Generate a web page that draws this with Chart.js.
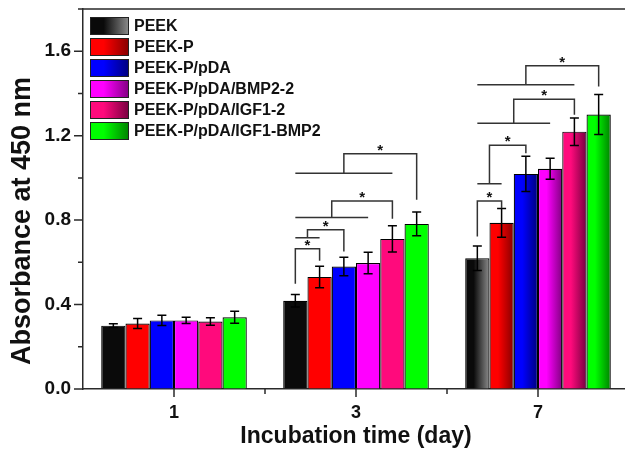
<!DOCTYPE html>
<html>
<head>
<meta charset="utf-8">
<script src="https://cdn.jsdelivr.net/npm/chart.js@4.4.0/dist/chart.umd.min.js"></script>
<style>
  html, body { margin: 0; padding: 0; background: #fff; overflow: hidden; }
  canvas { display: block; }
</style>
</head>
<body>
<canvas id="absChart" width="630" height="450"></canvas>
<script>
// data
const days = ['1', '3', '7'];
const groups = ['PEEK', 'PEEK-P', 'PEEK-P/pDA', 'PEEK-P/pDA/BMP2-2', 'PEEK-P/pDA/IGF1-2', 'PEEK-P/pDA/IGF1-BMP2'];
const peek       = [0.300, 0.418, 0.619];
const peekP      = [0.310, 0.531, 0.787];
const peekPdA    = [0.325, 0.580, 1.019];
const peekBmp    = [0.325, 0.597, 1.043];
const peekIgf    = [0.320, 0.711, 1.219];
const peekIgfBmp = [0.340, 0.782, 1.300];
const peekErr       = [0.009, 0.030, 0.058];
const peekPErr      = [0.024, 0.051, 0.068];
const peekPdAErr    = [0.024, 0.044, 0.084];
const peekBmpErr    = [0.015, 0.051, 0.050];
const peekIgfErr    = [0.018, 0.062, 0.065];
const peekIgfBmpErr = [0.028, 0.056, 0.095];
const yTicks = [0, 0.4, 0.8, 1.2, 1.6];

// significance brackets: day, from bar, group end bar (null = plain bracket), base, top, to bar, drop end
const brackets = [
  [1, 0, null, 0.498, 0.664, 1, 0.607],
  [1, 0, 1, 0.717, 0.754, 2, 0.651],
  [1, 0, 3, 0.812, 0.891, 4, 0.806],
  [1, 0, 4, 1.022, 1.114, 5, 0.896],
  [2, 0, null, 0.722, 0.891, 1, 0.856],
  [2, 0, 1, 0.972, 1.155, 2, 1.117],
  [2, 0, 3, 1.259, 1.373, 4, 1.299],
  [2, 0, 4, 1.441, 1.531, 5, 1.433]
];

const seriesValues = [peek, peekP, peekPdA, peekBmp, peekIgf, peekIgfBmp];
const seriesErrors = [peekErr, peekPErr, peekPdAErr, peekBmpErr, peekIgfErr, peekIgfBmpErr];
const shades = [
  ['#0a0a0a', '#8c8c8c'],
  ['#ff0000', '#860000'],
  ['#0000ff', '#00007e'],
  ['#ff00ff', '#820082'],
  ['#ff0a7c', '#760040'],
  ['#00ff00', '#008200']
];
const boldFont = '"Liberation Sans", Arial, sans-serif';
const axisColor = '#2a2a2a';

function gradientFor(ctx, x0, x1, i) {
  const g = ctx.createLinearGradient(x0, 0, x1, 0);
  g.addColorStop(0, shades[i][0]);
  g.addColorStop(0.35, shades[i][0]);
  g.addColorStop(1, shades[i][1]);
  return g;
}

const decorPlugin = {
  id: 'decor',
  beforeDatasetsDraw(chart) {
    const ctx = chart.ctx;
    chart.data.datasets.forEach((ds, i) => {
      chart.getDatasetMeta(i).data.forEach(bar => {
        bar.options.backgroundColor = gradientFor(ctx, bar.x - bar.width / 2, bar.x + bar.width / 2, i);
      });
    });
  },
  afterDatasetsDraw(chart) {
    const ctx = chart.ctx;
    const y = chart.scales.y;
    const x = chart.scales.x;
    const area = chart.chartArea;
    ctx.save();

    // error bars
    ctx.strokeStyle = '#000';
    ctx.lineWidth = 1.5;
    seriesErrors.forEach((errs, i) => {
      chart.getDatasetMeta(i).data.forEach((bar, j) => {
        const v = seriesValues[i][j];
        const top = y.getPixelForValue(v + errs[j]);
        const bot = y.getPixelForValue(v - errs[j]);
        ctx.beginPath();
        ctx.moveTo(bar.x, top); ctx.lineTo(bar.x, bot);
        ctx.moveTo(bar.x - 4.5, top); ctx.lineTo(bar.x + 4.5, top);
        ctx.moveTo(bar.x - 4.5, bot); ctx.lineTo(bar.x + 4.5, bot);
        ctx.stroke();
      });
    });

    // brackets
    ctx.strokeStyle = '#333';
    ctx.lineWidth = 1.5;
    ctx.fillStyle = '#111';
    ctx.font = 'bold 15px ' + boldFont;
    ctx.textAlign = 'center';
    ctx.textBaseline = 'alphabetic';
    brackets.forEach(([d, a, b, base, top, to, drop]) => {
      const xa = chart.getDatasetMeta(a).data[d].x;
      const xt = chart.getDatasetMeta(to).data[d].x;
      let xs = xa;
      ctx.beginPath();
      if (b !== null) {
        const xb = chart.getDatasetMeta(b).data[d].x;
        ctx.moveTo(xa, y.getPixelForValue(base));
        ctx.lineTo(xb, y.getPixelForValue(base));
        xs = (xa + xb) / 2;
      }
      ctx.moveTo(xs, y.getPixelForValue(base));
      ctx.lineTo(xs, y.getPixelForValue(top));
      ctx.lineTo(xt, y.getPixelForValue(top));
      ctx.lineTo(xt, y.getPixelForValue(drop));
      ctx.stroke();
      ctx.fillText('*', (xs + xt) / 2, y.getPixelForValue(top) + 1);
    });

    // axis ticks and top frame line
    ctx.strokeStyle = axisColor;
    ctx.lineWidth = 1.5;
    ctx.beginPath();
    for (let k = 0; k <= 9; k++) {
      const py = y.getPixelForValue(k * 0.2);
      ctx.moveTo(area.left - (k % 2 === 0 ? 9 : 5), py);
      ctx.lineTo(area.left, py);
    }
    ctx.moveTo(area.left, area.top);
    ctx.lineTo(chart.width, area.top);
    days.forEach((_, j) => {
      const px = x.getPixelForValue(j);
      ctx.moveTo(px, area.bottom); ctx.lineTo(px, area.bottom + 8);
      const half = (x.getPixelForValue(1) - x.getPixelForValue(0)) / 2;
      ctx.moveTo(px + half, area.bottom); ctx.lineTo(px + half, area.bottom + 5);
    });
    ctx.stroke();

    // y axis title, sits a little below the plot's middle in the original
    ctx.save();
    ctx.translate(23, 221);
    ctx.rotate(-Math.PI / 2);
    ctx.font = 'bold 27px ' + boldFont;
    ctx.textAlign = 'center';
    ctx.textBaseline = 'middle';
    ctx.fillStyle = '#111';
    ctx.fillText('Absorbance at 450 nm', 0, 0);
    ctx.restore();

    // legend
    ctx.font = 'bold 16px ' + boldFont;
    ctx.textAlign = 'left';
    ctx.textBaseline = 'middle';
    ctx.lineWidth = 1;
    ctx.strokeStyle = '#222';
    groups.forEach((name, i) => {
      const bx = 90, by = 17 + i * 21, bw = 39, bh = 18;
      ctx.fillStyle = gradientFor(ctx, bx, bx + bw, i);
      ctx.fillRect(bx, by, bw, bh);
      ctx.strokeRect(bx + 0.5, by + 0.5, bw - 1, bh - 1);
      ctx.fillStyle = '#111';
      ctx.fillText(name, 134, by + bh / 2 + 1);
    });
    ctx.restore();
  }
};

const ctx = document.getElementById('absChart').getContext('2d');
new Chart(ctx, {
  type: 'bar',
  data: {
    labels: days,
    datasets: groups.map((name, i) => ({
      label: name,
      data: seriesValues[i],
      backgroundColor: shades[i][0],
      borderColor: '#000',
      borderWidth: 1.2,
      categoryPercentage: 0.8,
      barPercentage: 1.0
    }))
  },
  options: {
    responsive: false,
    animation: false,
    layout: { padding: { top: 9, right: 1, left: 0, bottom: 0 } },
    plugins: { legend: { display: false }, tooltip: { enabled: false } },
    scales: {
      x: {
        afterFit: s => { s.height = 61; s.paddingLeft = 0; s.paddingRight = 0; },
        grid: { display: true, drawOnChartArea: false, drawTicks: false },
        border: { color: axisColor, width: 1.5 },
        ticks: { color: '#111', padding: 13, font: { family: boldFont, size: 18, weight: 'bold' } },
        title: {
          display: true, text: 'Incubation time (day)', color: '#111',
          padding: { top: 0, bottom: 0 },
          font: { family: boldFont, size: 23, weight: 'bold' }
        }
      },
      y: {
        min: 0,
        max: 1.8,
        afterFit: s => { s.width = 83; s.paddingTop = 0; s.paddingBottom = 0; },
        afterBuildTicks: s => { s.ticks = yTicks.map(v => ({ value: v })); },
        grid: { display: true, drawOnChartArea: false, drawTicks: false },
        border: { color: axisColor, width: 1.5 },
        ticks: {
          color: '#111', padding: 12,
          font: { family: boldFont, size: 19, weight: 'bold' },
          callback: v => v.toFixed(1)
        }
      }
    }
  },
  plugins: [decorPlugin]
});
</script>
</body>
</html>
